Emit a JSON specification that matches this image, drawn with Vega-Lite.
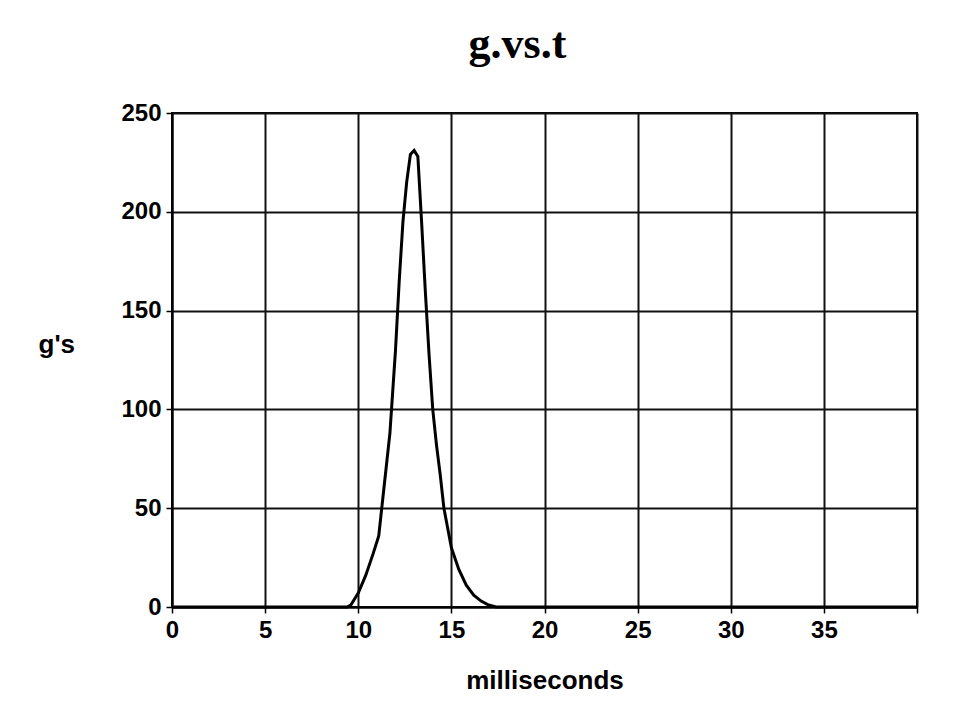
{
  "$schema": "https://vega.github.io/schema/vega-lite/v6.json",
  "width": 745,
  "height": 494,
  "autosize": {"type": "none"},
  "padding": {"left": 172, "top": 113, "right": 62, "bottom": 116},
  "background": "white",
  "title": {
    "text": "g.vs.t",
    "font": "Liberation Serif",
    "fontWeight": "bold",
    "fontSize": 44,
    "color": "black",
    "baseline": "alphabetic",
    "anchor": "middle",
    "offset": -1,
    "dx": -27
  },
  "data": {
    "values": [
      {"t": 0, "g": 0},
      {"t": 9.4, "g": 0},
      {"t": 9.6, "g": 1},
      {"t": 10.0, "g": 7},
      {"t": 10.4, "g": 16},
      {"t": 10.8, "g": 27},
      {"t": 11.1, "g": 36},
      {"t": 11.4, "g": 62},
      {"t": 11.7, "g": 88},
      {"t": 12.0, "g": 130},
      {"t": 12.2, "g": 165},
      {"t": 12.4, "g": 195},
      {"t": 12.6, "g": 215},
      {"t": 12.8, "g": 229},
      {"t": 13.0, "g": 231},
      {"t": 13.2, "g": 228},
      {"t": 13.4, "g": 195},
      {"t": 13.6, "g": 160},
      {"t": 13.8, "g": 128},
      {"t": 14.0, "g": 100},
      {"t": 14.2, "g": 82},
      {"t": 14.4, "g": 67},
      {"t": 14.6, "g": 50},
      {"t": 14.8, "g": 40},
      {"t": 15.0, "g": 30},
      {"t": 15.4, "g": 19},
      {"t": 15.8, "g": 11},
      {"t": 16.2, "g": 6},
      {"t": 16.6, "g": 3},
      {"t": 17.0, "g": 1},
      {"t": 17.4, "g": 0},
      {"t": 40, "g": 0}
    ]
  },
  "mark": {"type": "line", "color": "black", "strokeWidth": 3, "clip": false},
  "encoding": {
    "x": {
      "field": "t",
      "type": "quantitative",
      "scale": {"domain": [0, 40], "nice": false},
      "axis": {
        "title": "milliseconds",
        "values": [0, 5, 10, 15, 20, 25, 30, 35, 40],
        "labelExpr": "datum.value == 40 ? '' : datum.label",
        "titleY": 81,
        "titleBaseline": "alphabetic",
        "titleFont": "Liberation Sans",
        "titleFontWeight": "bold",
        "titleFontSize": 26,
        "titleColor": "black",
        "labelFont": "Liberation Sans",
        "labelFontWeight": "bold",
        "labelFontSize": 24,
        "labelColor": "black",
        "labelPadding": 5,
        "labelFlush": false,
        "labelOverlap": false,
        "tickSize": 6,
        "tickColor": "black",
        "tickWidth": 1.5,
        "domainColor": "black",
        "domainWidth": 2,
        "gridColor": "#111111",
        "gridWidth": 2,
        "gridOpacity": 1
      }
    },
    "y": {
      "field": "g",
      "type": "quantitative",
      "scale": {"domain": [0, 250], "nice": false},
      "axis": {
        "title": "g's",
        "titleAngle": 0,
        "titleAlign": "left",
        "titleBaseline": "alphabetic",
        "titleX": -134,
        "titleY": 239,
        "titleFont": "Liberation Sans",
        "titleFontWeight": "bold",
        "titleFontSize": 26,
        "titleColor": "black",
        "values": [0, 50, 100, 150, 200, 250],
        "labelFont": "Liberation Sans",
        "labelFontWeight": "bold",
        "labelFontSize": 24,
        "labelColor": "black",
        "labelPadding": 5,
        "labelFlush": false,
        "labelOverlap": false,
        "tickSize": 6,
        "tickColor": "black",
        "tickWidth": 1.5,
        "domainColor": "black",
        "domainWidth": 2,
        "gridColor": "#111111",
        "gridWidth": 2,
        "gridOpacity": 1
      }
    }
  },
  "config": {
    "view": {"stroke": "black", "strokeWidth": 2}
  }
}
